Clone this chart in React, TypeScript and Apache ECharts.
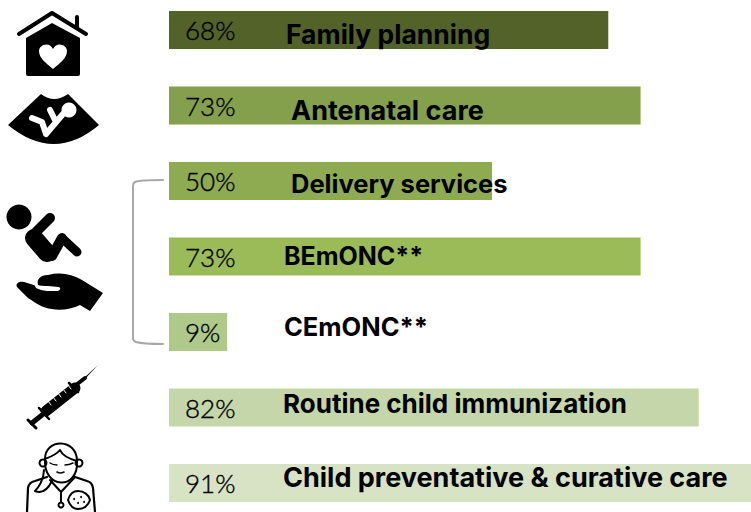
import React, { useEffect, useRef } from "react";
import * as echarts from "echarts";

const categories = [
  "Family planning",
  "Antenatal care",
  "Delivery services",
  "BEmONC**",
  "CEmONC**",
  "Routine child immunization",
  "Child preventative & curative care",
];
const coverage = [68, 73, 50, 73, 9, 82, 91];
const barColors = ["#526228", "#84a04c", "#8fab52", "#9bbb59", "#afc98a", "#c5d6ab", "#d8e3c6"];
const nameOffsets = [
  [117, 4],
  [122, 5],
  [122, 2],
  [115, -1],
  [115, -6],
  [114, -4],
  [114, -6],
];
const nameSizes = [26.5, 27, 25.5, 25, 25.5, 26, 27];

const PAD_TOP = 20;

const shapes: Record<string, string> = {
  roof: "M19,34 L52,13 L86,34",
  chimney: "M77,17 L77,27",
  house: "M26,38 L52,23 L80,38 L80,74 Q80,76 78,76 L28,76 Q26,76 26,74 Z",
  heart: "M53,69 C46,63 39,58 39,51 C39,45 49,41 53,49 C57,41 67,45 67,51 C67,58 60,63 53,69 Z",
  scan: "M8,125 L41,94 Q54,104 68,94 L99,125 Q54,163 8,125 Z",
  scanBaby: "M50,110 L56,122 M63,114 L46,134 L42,122 L32,118",
  babyArm: "M50,218 L36,232",
  babyTorso: "M34,238 L47,253",
  babyThigh: "M62,238 L52,256",
  babyLeg: "M63,239 L77,252",
  hand: "M17,287 C15,283 20,281 24,282 L37,286 C37,279 40,275 48,275 C60,272 72,274 82,280 L103,293 L90,311 L80,305 C72,309 60,311 52,309 C42,308 36,303 28,298 Z",
  handGap: "M37,279 L38,285 Q40,286 48,286 L59,287 Q62,289 58,291 L47,291 Q42,291 36,288 L34,284 Z",
  needle: "M98,365 L84,378 L85,379 Z",
  hub: "M85,378 L76,385",
  barrel: "M75,388 L46,411",
  flange1: "M69,383 L78,392",
  flange2: "M39,408 L49,419",
  plunger: "M42,415 L32,423",
  capEnd: "M28,420 L36,428",
  ticks: "M68,385 L71,389 M63,389 L66,393 M58,393 L61,397 M53,397 L56,401 M48,401 L51,405",
  hair: "M45,459 C45,438 77,438 77,461 C70,459 62,455 60,450 C56,455 50,457 45,459",
  face: "M45,459 C43,490 79,490 77,461",
  eyeL: "M50,463 Q53,465 57,465",
  eyeR: "M65,465 Q69,465 73,463",
  smile: "M57,472 Q60,474 64,472",
  shoulderL: "M27,512 L28,488 Q29,482 35,481 L47,477",
  shoulderR: "M95,512 L93,488 Q92,482 87,481 L75,477",
  tail: "M44,470 C44,480 38,488 35,491 C42,494 48,489 52,481",
  collar: "M50,480 L61,492 L75,477",
  scope: "M61,492 L61,503",
  badge: "M68,500 C70,493 74,491 78,491 C84,491 89,495 90,500 C88,506 84,509 78,509 C73,509 70,506 68,500 Z",
  bracket: "M163,180 Q140,180 135,182 Q133,183 133,186 L133,338 Q133,341 136,342 Q143,344 163,344",
};
Object.entries(shapes).forEach(([name, d]) => {
  echarts.graphic.registerShape(name, echarts.graphic.extendPath(d, {}));
});

const fill = (type: string, color = "#000") => ({ type, x: 0, y: 0, silent: true, style: { fill: color } });
const stroke = (type: string, lineWidth: number, color = "#000") => ({
  type,
  x: 0,
  y: 0,
  silent: true,
  style: { fill: "none", stroke: color, lineWidth, lineCap: "round", lineJoin: "round" },
});
const dot = (cx: number, cy: number, r: number, color = "#000") => ({
  type: "circle",
  silent: true,
  shape: { cx, cy, r },
  style: { fill: color },
});
const ring = (cx: number, cy: number, r: number, lineWidth = 2) => ({
  type: "circle",
  silent: true,
  shape: { cx, cy, r },
  style: { fill: "#fff", stroke: "#000", lineWidth },
});

const icons = [
  stroke("bracket", 2, "#a8a8a8"),
  stroke("roof", 4),
  stroke("chimney", 4),
  fill("house"),
  fill("heart", "#fff"),
  fill("scan"),
  stroke("scanBaby", 6, "#fff"),
  dot(69, 110, 7.5, "#fff"),
  dot(19, 217, 12.5),
  stroke("babyArm", 10),
  stroke("babyTorso", 18),
  stroke("babyThigh", 10),
  stroke("babyLeg", 9),
  fill("hand"),
  fill("handGap", "#fff"),
  fill("needle"),
  stroke("hub", 4),
  stroke("barrel", 11),
  stroke("flange1", 2.5),
  stroke("flange2", 2.5),
  stroke("plunger", 5),
  stroke("capEnd", 3),
  stroke("ticks", 1, "#fff"),
  ring(43, 463, 3.5),
  ring(79, 463, 3.5),
  stroke("face", 2),
  stroke("hair", 2),
  stroke("eyeL", 1.4),
  stroke("eyeR", 1.4),
  stroke("smile", 1.6),
  stroke("shoulderL", 2.2),
  stroke("shoulderR", 2.2),
  stroke("tail", 2),
  stroke("collar", 2),
  stroke("scope", 2),
  ring(61, 505, 2.5),
  stroke("badge", 2),
  dot(74, 499, 1),
  dot(81, 497, 1),
  dot(78, 503, 1),
  dot(84, 502, 1),
];

export default function App() {
  const ref = useRef<HTMLDivElement>(null);
  useEffect(() => {
    const chart = echarts.init(ref.current!, undefined, { renderer: "svg" });
    chart.setOption({
      animation: false,
      backgroundColor: "#fff",
      grid: { left: 169, top: PAD_TOP - 7.75, width: 646, height: 528.5, containLabel: false },
      xAxis: { type: "value", min: 0, max: 100, show: false },
      yAxis: { type: "category", inverse: true, data: categories, show: false },
      series: [
        {
          type: "bar",
          barWidth: 38,
          data: coverage.map((value, i) => ({ value, itemStyle: { color: barColors[i] } })),
          label: {
            show: true,
            position: "insideLeft",
            distance: 0,
            offset: [16, 0],
            formatter: "{c}%",
            color: "#000",
            fontFamily: "Lato",
            fontWeight: 300,
            fontSize: 26,
            textBorderColor: "#000",
            textBorderWidth: 0.4,
          },
        },
        {
          type: "bar",
          barWidth: 38,
          barGap: "-100%",
          silent: true,
          itemStyle: { color: "transparent" },
          data: coverage.map((value, i) => ({
            value,
            label: { offset: nameOffsets[i], fontSize: nameSizes[i] },
          })),
          label: {
            show: true,
            position: "insideLeft",
            distance: 0,
            formatter: "{b}",
            color: "#000",
            fontFamily: "Inter",
            fontWeight: 700,
          },
        },
      ],
      graphic: { elements: [{ type: "group", x: 0, y: PAD_TOP, silent: true, children: icons }] },
    });
    return () => chart.dispose();
  }, []);
  return (
    <div style={{ position: "absolute", left: 0, top: 0, width: 751, height: 512, overflow: "hidden", background: "#fff" }}>
      <div ref={ref} style={{ position: "absolute", left: 0, top: -PAD_TOP, width: 850, height: 560 }} />
    </div>
  );
}
